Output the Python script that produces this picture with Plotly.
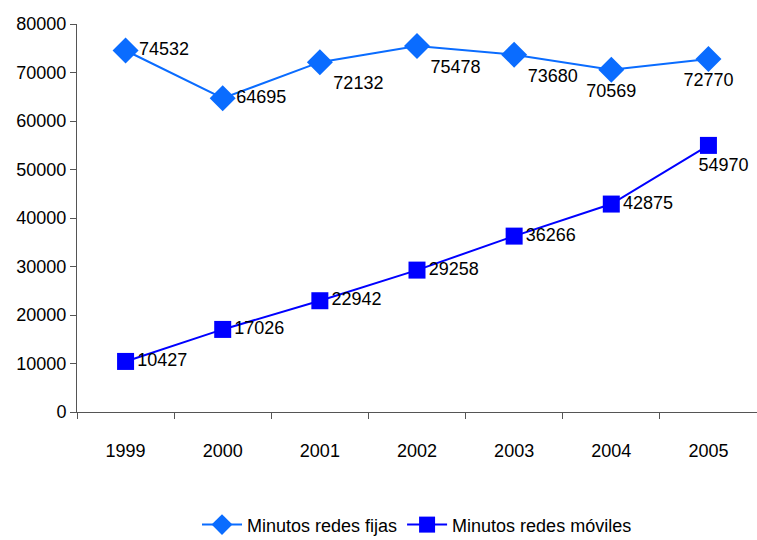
import plotly.graph_objects as go

years = ["1999", "2000", "2001", "2002", "2003", "2004", "2005"]
fijas = [74532, 64695, 72132, 75478, 73680, 70569, 72770]
moviles = [10427, 17026, 22942, 29258, 36266, 42875, 54970]
fijas_pos = ["middle right", "middle right", "bottom right", "bottom right",
             "bottom right", "bottom center", "bottom center"]
moviles_pos = ["middle right"] * 6 + ["bottom center"]

NB = "\u00a0"
fijas_text = [str(v) for v in fijas]
moviles_text = [str(v) for v in moviles]
moviles_text[-1] = NB * 6 + moviles_text[-1]

FONT = "Liberation Sans Narrow, Arial Narrow, Liberation Sans, Arial, sans-serif"

fig = go.Figure()
fig.add_trace(go.Scatter(
    x=years, y=fijas, mode="lines+markers+text", name="Minutos redes fijas",
    line=dict(color="#0A6CFF", width=2),
    marker=dict(symbol="diamond", size=20, color="#0A6CFF"),
    text=fijas_text, textposition=fijas_pos, cliponaxis=False,
    textfont=dict(family=FONT, size=18, color="black"),
))
fig.add_trace(go.Scatter(
    x=years, y=moviles, mode="lines+markers+text", name="Minutos redes móviles",
    line=dict(color="#0000FF", width=2),
    marker=dict(symbol="square", size=17, color="#0000FF"),
    text=moviles_text, textposition=moviles_pos, cliponaxis=False,
    textfont=dict(family=FONT, size=18, color="black"),
))

fig.update_layout(
    width=757, height=540,
    margin=dict(l=77, r=0, t=24, b=128, autoexpand=False),
    plot_bgcolor="white", paper_bgcolor="white",
    font=dict(family=FONT, size=18, color="black"),
    showlegend=True,
    legend=dict(orientation="h", x=0.5, xanchor="center", y=-0.291, yanchor="middle",
                font=dict(family=FONT, size=18), itemwidth=40),
)
fig.update_xaxes(
    type="category", showline=True, linecolor="#555", linewidth=1,
    ticks="outside", tickson="boundaries", ticklen=6, tickcolor="#555",
    showgrid=False, range=[-0.5, 6.5], automargin=False, ticklabelstandoff=22,
)
fig.update_yaxes(
    range=[0, 80000], dtick=10000, showline=True, linecolor="#555", linewidth=1,
    ticks="outside", ticklen=6, tickcolor="#555", showgrid=False, zeroline=False,
    tickformat="d", automargin=False,
)
fig.write_html(
    "out.html",
    config={"displayModeBar": False},
    post_script=(
        "var s=document.createElement('style');"
        "s.textContent='html,body{margin:0;padding:0;overflow:hidden;height:540px;width:757px;}';"
        "document.head.appendChild(s);"
    ),
)
